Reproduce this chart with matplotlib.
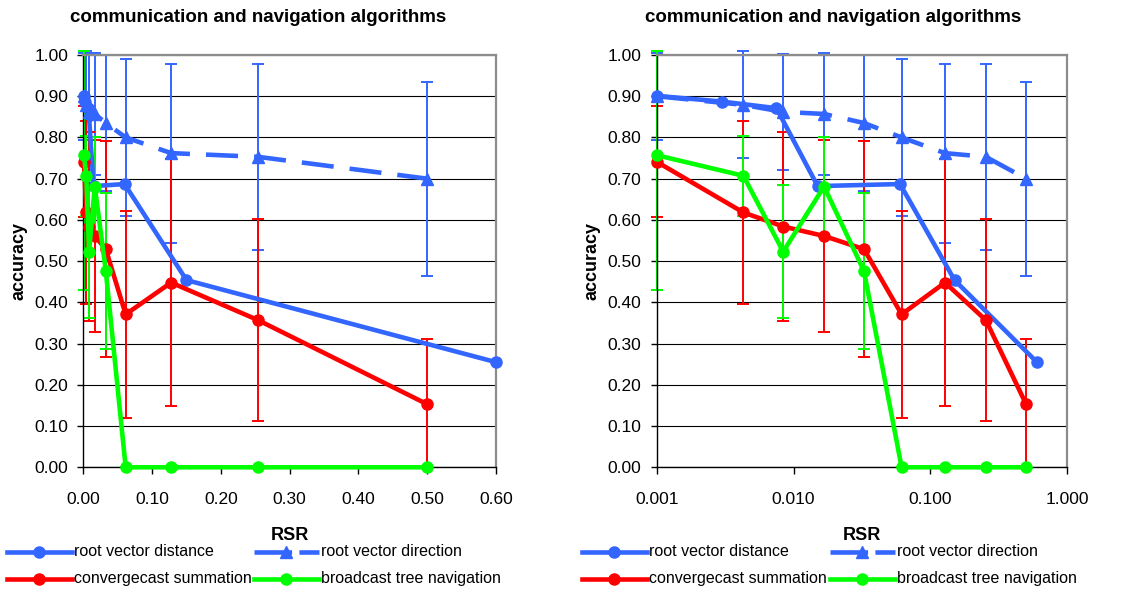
import numpy as np
import matplotlib
matplotlib.use("Agg")
import matplotlib.pyplot as plt
from matplotlib.lines import Line2D
from matplotlib.ticker import FixedLocator, FormatStrFormatter, NullLocator

plt.rcParams['font.family'] = ['Liberation Sans', 'DejaVu Sans']

# root vector distance
dist_rsr = [0.001, 0.003, 0.0075, 0.015, 0.06, 0.15, 0.6]
dist_acc = [0.901, 0.887, 0.871, 0.682, 0.687, 0.454, 0.255]

# root vector direction
dir_rsr = [0.001, 0.0043, 0.0084, 0.0167, 0.0327, 0.0616, 0.1277, 0.254, 0.5]
dir_acc = [0.900, 0.879, 0.862, 0.857, 0.835, 0.800, 0.762, 0.753, 0.700]
dir_err = [0.105, 0.130, 0.140, 0.148, 0.165, 0.190, 0.217, 0.225, 0.235]

# convergecast summation
conv_rsr = [0.001, 0.0043, 0.0084, 0.0167, 0.0327, 0.0616, 0.1277, 0.254, 0.5]
conv_acc = [0.741, 0.618, 0.584, 0.561, 0.529, 0.371, 0.448, 0.357, 0.153]
conv_err = [0.135, 0.223, 0.229, 0.234, 0.262, 0.251, 0.299, 0.245, 0.158]

# broadcast tree navigation
bcast_rsr = [0.001, 0.0043, 0.0084, 0.0167, 0.0327, 0.0616, 0.1277, 0.254, 0.5]
bcast_acc = [0.757, 0.707, 0.523, 0.681, 0.476, 0.0, 0.0, 0.0, 0.0]
bcast_err = [0.327, 0.097, 0.162, 0.121, 0.190, 0.0, 0.0, 0.0, 0.0]

title = 'communication and navigation algorithms'
labels = ['root vector distance', 'root vector direction',
          'convergecast summation', 'broadcast tree navigation']

BLUE = '#3366FF'
RED = '#FF0000'
GREEN = '#00FF00'
LW = 3.3
MS = 8
DASH = (7, 3.5)

W, H = 1129, 592
fig = plt.figure(figsize=(W / 100, H / 100), dpi=100)


def px(x0, y0, x1, y1):
    return [x0 / W, 1 - y1 / H, (x1 - x0) / W, (y1 - y0) / H]


def clipped_err(acc, err):
    acc = np.array(acc)
    err = np.array(err)
    lo = acc - np.clip(acc - err, 0, None)
    hi = np.clip(acc + err, None, 1.01) - acc
    return [lo, hi]


def errbars(ax, x, y, err, color):
    ax.errorbar(x, y, yerr=clipped_err(y, err), fmt='none', ecolor=color,
                elinewidth=1.4, capsize=4.5, capthick=1.4, clip_on=False, zorder=2)


def draw_panel(ax, log):
    errbars(ax, dir_rsr, dir_acc, dir_err, BLUE)
    ax.plot(dist_rsr, dist_acc, color=BLUE, lw=LW, marker='o', ms=MS, zorder=3, clip_on=False)
    ax.plot(dir_rsr, dir_acc, color=BLUE, lw=LW, marker='^', ms=MS, dashes=DASH,
            zorder=3, clip_on=False)
    errbars(ax, conv_rsr, conv_acc, conv_err, RED)
    ax.plot(conv_rsr, conv_acc, color=RED, lw=LW, marker='o', ms=MS, zorder=4, clip_on=False)
    errbars(ax, bcast_rsr, bcast_acc, bcast_err, GREEN)
    ax.plot(bcast_rsr, bcast_acc, color=GREEN, lw=LW, marker='o', ms=MS, zorder=5, clip_on=False)

    ax.set_ylim(0, 1.0)
    ax.yaxis.set_major_locator(FixedLocator(np.arange(0, 1.01, 0.1)))
    ax.yaxis.set_major_formatter(FormatStrFormatter('%.2f'))
    if log:
        ax.set_xscale('log')
        ax.set_xlim(0.001, 1.0)
        ax.xaxis.set_major_locator(FixedLocator([0.001, 0.01, 0.1, 1.0]))
        ax.xaxis.set_minor_locator(NullLocator())
        ax.xaxis.set_major_formatter(FormatStrFormatter('%.3f'))
    else:
        ax.set_xlim(0, 0.6)
        ax.xaxis.set_major_locator(FixedLocator(np.arange(0, 0.61, 0.1)))
        ax.xaxis.set_major_formatter(FormatStrFormatter('%.2f'))

    ax.grid(axis='y', color='black', lw=0.8)
    ax.set_axisbelow(True)
    for s in ['top', 'right']:
        ax.spines[s].set_color('#8c8c8c')
        ax.spines[s].set_linewidth(1.6)
    for s in ['left', 'bottom']:
        ax.spines[s].set_color('black')
        ax.spines[s].set_linewidth(1.0)
    ax.tick_params(axis='y', direction='out', length=4, width=1, pad=7, labelsize=12.5)
    ax.tick_params(axis='x', direction='out', length=5, width=1, pad=13, labelsize=12.5)
    ax.set_ylabel('accuracy', fontsize=13, fontweight='bold', labelpad=5)
    ax.set_xlabel('RSR', fontsize=13, fontweight='bold', labelpad=14)


def draw_legend(x_cols, y_rows):
    entries = [(0, 0, BLUE, 'o', None), (1, 0, BLUE, '^', DASH),
               (0, 1, RED, 'o', None), (1, 1, GREEN, 'o', None)]
    for (c, r, color, mk, dash), lab in zip(entries, labels):
        x0 = x_cols[c]
        y = 1 - y_rows[r] / H
        line = Line2D([x0 / W, (x0 + 65) / W], [y, y], color=color, lw=LW,
                      transform=fig.transFigure)
        if dash:
            line.set_dashes((8.2, 1.6))
        fig.add_artist(line)
        fig.add_artist(Line2D([(x0 + 32) / W], [y], color=color, marker=mk, ms=MS,
                              transform=fig.transFigure, lw=0))
        fig.text((x0 + 67) / W, y, lab, fontsize=11.5, va='center', ha='left')


ax1 = fig.add_axes(px(83.3, 55, 496, 467.3))
draw_panel(ax1, log=False)
ax2 = fig.add_axes(px(656.7, 55, 1067.3, 467.3))
draw_panel(ax2, log=True)

fig.text(258 / W, 1 - 18 / H, title, fontsize=13.5, fontweight='bold', ha='center', va='center')
fig.text(833 / W, 1 - 18 / H, title, fontsize=13.5, fontweight='bold', ha='center', va='center')

draw_legend([7, 254], [552, 579])
draw_legend([582, 830], [552, 579])

fig.savefig('out.png', dpi=100)
